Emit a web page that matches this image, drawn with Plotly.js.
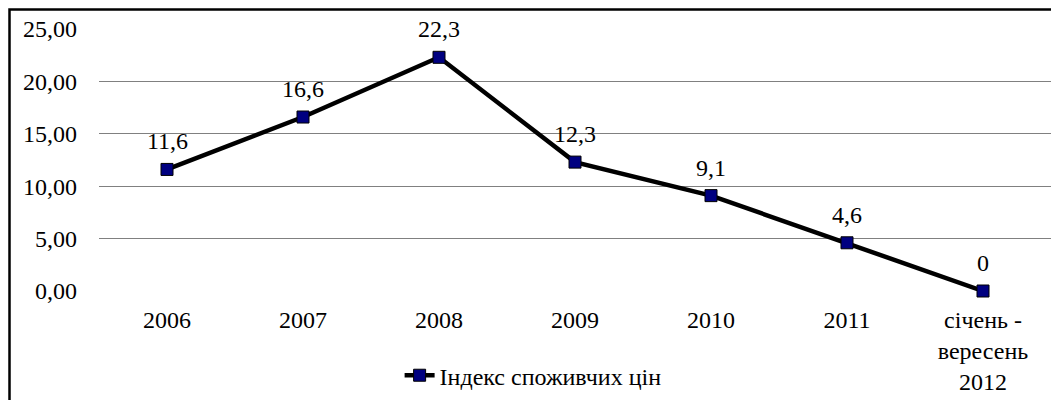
<!DOCTYPE html>
<html>
<head>
<meta charset="utf-8">
<script src="https://cdn.plot.ly/plotly-3.0.1.min.js"></script>
<style>
html,body{margin:0;padding:0;background:#fff;}
#chart{width:1051px;height:400px;}
</style>
</head>
<body>
<div id="chart"></div>
<script>
var categories = ['2006', '2007', '2008', '2009', '2010', '2011', 'січень -<br>вересень<br>2012'];
var values = [11.6, 16.6, 22.3, 12.3, 9.1, 4.6, 0];
var labels = ['11,6', '16,6', '22,3', '12,3', '9,1', '4,6', '0'];
var seriesName = 'Індекс споживчих цін';
var yTicks = [0, 5, 10, 15, 20, 25];

var font = 'Liberation Serif, Times New Roman, serif';
var fsize = 24;

var trace = {
  type: 'scatter',
  mode: 'lines+markers',
  x: categories,
  y: values,
  name: seriesName,
  line: {color: '#000', width: 4.5},
  marker: {symbol: 'square', size: 12, color: '#000080', line: {color: '#000', width: 1}},
  cliponaxis: false,
  hoverinfo: 'none'
};

var annotations = values.map(function (v, i) {
  return {
    x: i, y: v, xref: 'x', yref: 'y',
    text: labels[i], showarrow: false,
    xanchor: 'center', yanchor: 'middle', yshift: 28,
    font: {family: font, size: fsize, color: '#000'}
  };
});

var layout = {
  width: 1051,
  height: 400,
  margin: {l: 99, r: 0, t: 29, b: 109, pad: 0},
  paper_bgcolor: '#fff',
  plot_bgcolor: '#fff',
  separators: ', ',
  font: {family: font, size: fsize, color: '#000'},
  showlegend: true,
  legend: {
    orientation: 'h',
    x: 0.456, xanchor: 'center',
    y: -0.323, yanchor: 'middle',
    font: {family: font, size: fsize, color: '#000'},
    bgcolor: 'rgba(0,0,0,0)'
  },
  annotations: annotations,
  xaxis: {
    type: 'category',
    range: [-0.5, 6.5],
    showgrid: false,
    showline: false,
    zeroline: false,
    ticks: '',
    ticklabelstandoff: 12,
    tickfont: {family: font, size: fsize, color: '#000'},
    fixedrange: true
  },
  yaxis: {
    range: [0, 25],
    tickvals: yTicks,
    tickformat: '.2f',
    showgrid: true,
    gridcolor: '#808080',
    gridwidth: 1,
    showline: false,
    zeroline: false,
    ticks: '',
    ticklabelstandoff: 21,
    tickfont: {family: font, size: fsize, color: '#000'},
    fixedrange: true
  },
  shapes: [{
    type: 'rect',
    xref: 'paper', yref: 'paper',
    x0: (9.5 - 99) / 952, x1: 1.05,
    y0: -0.5, y1: 1 + (29 - 9.5) / 262,
    line: {color: '#000', width: 2.5},
    fillcolor: 'rgba(0,0,0,0)',
    layer: 'below'
  }]
};

Plotly.newPlot('chart', [trace], layout, {displayModeBar: false, staticPlot: true});
</script>
</body>
</html>
